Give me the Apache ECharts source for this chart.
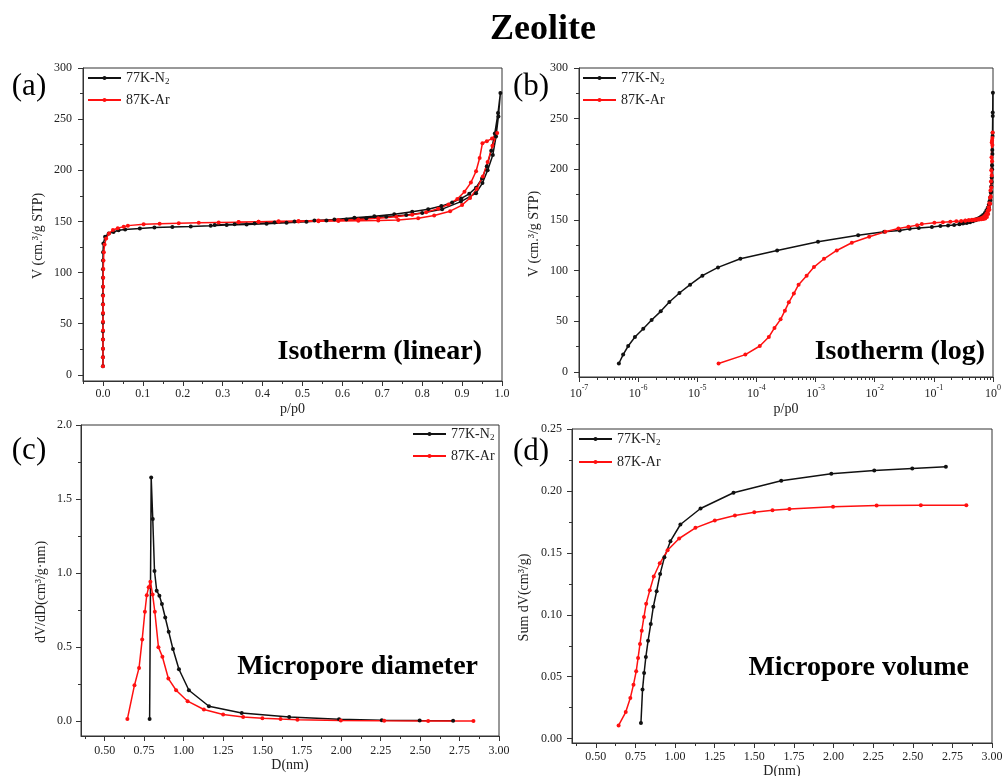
<!DOCTYPE html>
<html><head><meta charset="utf-8">
<script src="https://cdn.jsdelivr.net/npm/echarts@6/dist/echarts.min.js"></script>
<style>html,body{margin:0;padding:0;background:#fff}#c{width:1003px;height:776px}</style>
</head><body><div id="c"></div>
<script>
// ---------- DATA ----------
// Isotherm, 77K-N2 (adsorption then desorption)
const n2P = [4.72e-7, 5.58e-7, 6.79e-7, 8.83e-7, 1.22e-6, 1.69e-6, 2.41e-6, 3.37e-6, 4.99e-6, 7.57e-6,
  1.22e-5, 2.24e-5, 5.35e-5, 2.24e-4, 1.10e-3, 5.25e-3, 1.45e-2, 2.65e-2, 3.91e-2, 5.56e-2,
  9.25e-2, 0.129, 0.174, 0.22, 0.27, 0.31, 0.36, 0.41, 0.46, 0.51, 0.56, 0.61, 0.66, 0.71, 0.76,
  0.80, 0.85, 0.897, 0.935, 0.951, 0.964, 0.977, 0.985, 0.991, 0.996,
  0.990, 0.982, 0.973, 0.962, 0.950, 0.935, 0.918, 0.898, 0.875, 0.848, 0.815, 0.775, 0.73, 0.68,
  0.63, 0.58, 0.53, 0.48, 0.43, 0.38, 0.33, 0.28];
const n2V = [8.3, 17.1, 25.6, 34.5, 42.7, 51.3, 59.8, 69.0, 77.9, 86.1,
  95.0, 103.2, 111.7, 119.9, 128.5, 135.0, 138.3, 139.6, 141.3, 142.0,
  143.0, 144.0, 144.5, 145.0, 145.8, 146.5, 147.0, 147.8, 148.8, 149.8, 150.8, 152.0, 153.2, 154.5, 156.2,
  158.3, 162.0, 169.4, 177.6, 187.5, 200, 215, 233, 252.7, 275.6,
  256, 236, 219, 204, 192, 183, 177, 172.5, 168.5, 165, 162, 159.5, 157, 155,
  153.5, 152, 151, 150, 149, 148, 147.2, 146.5];
// Isotherm, 87K-Ar (adsorption then desorption)
const arP = [2.29e-5, 6.50e-5, 1.14e-4, 1.62e-4, 2.02e-4, 2.56e-4, 3.03e-4, 3.53e-4, 4.29e-4, 5.16e-4,
  7.06e-4, 9.39e-4, 1.39e-3, 2.28e-3, 4.10e-3, 8.07e-3, 1.51e-2, 2.51e-2, 3.71e-2, 5.2e-2,
  6.25e-2, 0.102, 0.142, 0.19, 0.24, 0.29, 0.34, 0.39, 0.44, 0.49, 0.54, 0.59, 0.64, 0.69, 0.74,
  0.79, 0.83, 0.87, 0.90, 0.92, 0.937, 0.952, 0.964, 0.976, 0.988,
  0.975, 0.962, 0.951, 0.944, 0.935, 0.922, 0.906, 0.888, 0.866, 0.84, 0.81, 0.775, 0.735, 0.69,
  0.64, 0.59, 0.54, 0.49, 0.44, 0.39, 0.34];
const arV = [8.3, 17.1, 25.6, 34.5, 43.4, 51.9, 60.5, 68.7, 77.3, 86.1,
  95.0, 103.5, 111.7, 119.9, 127.5, 133.4, 138.3, 141.6, 143.3, 144.9,
  145.9, 147.2, 147.8, 148.3, 148.7, 149.0, 149.3, 149.6, 149.8, 150.0, 150.2, 150.4, 150.7, 151.0, 151.5,
  153.0, 155.8, 160.0, 166.0, 173.0, 182.0, 194.0, 208.0, 224.0, 236.4,
  231, 228.5, 226.5, 212, 199, 188, 179, 172, 166.5, 162.5, 159, 156.5, 154.5, 153,
  152, 151.3, 150.8, 150.4, 150.1, 149.8, 149.5];
// Pore size distribution
const dN2 = [0.785, 0.795, 0.805, 0.816, 0.830, 0.847, 0.863, 0.884, 0.906, 0.933, 0.971, 1.034,
  1.161, 1.369, 1.670, 1.986, 2.257, 2.497, 2.709];
const dvdN2 = [0.014, 1.646, 1.365, 1.014, 0.881, 0.847, 0.791, 0.700, 0.604, 0.487, 0.351, 0.209,
  0.101, 0.056, 0.029, 0.0135, 0.007, 0.0045, 0.003];
const sumN2 = [0.0127, 0.0396, 0.053, 0.066, 0.079, 0.0926, 0.1064, 0.119, 0.133, 0.1464, 0.1594, 0.1729,
  0.1858, 0.1985, 0.2082, 0.2138, 0.2165, 0.2181, 0.2195];
const dAr = [0.644, 0.689, 0.718, 0.738, 0.755, 0.767, 0.779, 0.790, 0.804, 0.818, 0.841, 0.866, 0.904,
  0.953, 1.026, 1.129, 1.251, 1.378, 1.500, 1.615, 1.722, 1.997, 2.272, 2.551, 2.838];
const dvdAr = [0.014, 0.243, 0.36, 0.552, 0.739, 0.851, 0.905, 0.941, 0.856, 0.739, 0.50, 0.435, 0.288,
  0.209, 0.135, 0.079, 0.045, 0.029, 0.020, 0.014, 0.009, 0.005, 0.003, 0.002, 0.001];
const sumAr = [0.0107, 0.0215, 0.0329, 0.0436, 0.0544, 0.0652, 0.0765, 0.0872, 0.0983, 0.109, 0.1198,
  0.1309, 0.1416, 0.1521, 0.1616, 0.1702, 0.1761, 0.1801, 0.1828, 0.1844, 0.1855, 0.1872, 0.1882,
  0.1884, 0.1884];
// Tick values
const ticksPP = [0, 0.1, 0.2, 0.3, 0.4, 0.5, 0.6, 0.7, 0.8, 0.9, 1.0];
const ticksPPminor = [-0.05, 0.05, 0.15, 0.25, 0.35, 0.45, 0.55, 0.65, 0.75, 0.85, 0.95];
const ticksV = [0, 50, 100, 150, 200, 250, 300];
const ticksVminor = [25, 75, 125, 175, 225, 275];
const ticksD = [0.5, 0.75, 1.0, 1.25, 1.5, 1.75, 2.0, 2.25, 2.5, 2.75, 3.0];
const ticksDminor = [0.375, 0.625, 0.875, 1.125, 1.375, 1.625, 1.875, 2.125, 2.375, 2.625, 2.875];
const ticksDVD = [0, 0.5, 1.0, 1.5, 2.0];
const ticksDVDminor = [0.25, 0.75, 1.25, 1.75];
const ticksSum = [0, 0.05, 0.10, 0.15, 0.20, 0.25];
const ticksSumMinor = [0.025, 0.075, 0.125, 0.175, 0.225];
const seriesNames = ['77K-N2', '87K-Ar'];

// ---------- CHART ----------
const FONT = '"Liberation Serif", "Times New Roman", serif';
const AX = '#333';
const TX = '#222';
const BLACK = '#111111';
const RED = '#ff1010';
const pairs = (xs, ys) => xs.map((x, i) => [x, ys[i]]);

function mainAxis(o) {
  return Object.assign({
    type: 'value', splitLine: { show: false },
    axisLine: { show: true, onZero: false, lineStyle: { color: AX, width: 1 } },
    axisTick: { show: true, inside: false, length: 5, customValues: o.ticks, lineStyle: { color: AX, width: 1 } },
    axisLabel: { show: true, customValues: o.ticks, formatter: o.fmt, margin: o.margin, color: TX, fontFamily: FONT, fontSize: 12 },
    nameLocation: 'middle', nameTextStyle: { fontFamily: FONT, fontSize: 14, color: TX, padding: o.namePad || 0 }
  }, o.extra);
}
function minorAxis(o) {
  return Object.assign({
    type: 'value', splitLine: { show: false },
    axisLine: { show: false, onZero: false },
    axisTick: { show: true, inside: false, length: 3, customValues: o.ticks, lineStyle: { color: AX, width: 1 } },
    axisLabel: { show: false }
  }, o.extra);
}

const logMinor = [];
for (let n = -7; n < 0; n++) for (let k = 2; k <= 9; k++) logMinor.push(n + Math.log10(k));

const grids = [
  { left: 83, top: 68, width: 419, height: 313 },
  { left: 579, top: 68, width: 414, height: 309 },
  { left: 81, top: 425, width: 418, height: 311 },
  { left: 572, top: 429, width: 420, height: 314 }
].map(g => Object.assign({ show: true, borderColor: AX, borderWidth: 1, containLabel: false, outerBoundsMode: 'none' }, g));

const xAxis = [
  mainAxis({ ticks: ticksPP, fmt: v => v.toFixed(1), margin: 7, extra: { gridIndex: 0, min: -0.05, max: 1.0, position: 'bottom', name: 'p/p0', nameGap: 21 } }),
  minorAxis({ ticks: ticksPPminor, extra: { gridIndex: 0, min: -0.05, max: 1.0, position: 'bottom' } }),
  {
    type: 'log', logBase: 10, gridIndex: 1, min: 1e-7, max: 1, position: 'bottom', splitLine: { show: false },
    axisLine: { show: true, onZero: false, lineStyle: { color: AX, width: 1 } },
    axisTick: { show: true, inside: false, length: 5, lineStyle: { color: AX, width: 1 } },
    axisLabel: {
      margin: 7, color: TX, fontFamily: FONT,
      formatter: v => '{b|10}{e|' + Math.round(Math.log10(v)) + '}',
      rich: { b: { fontSize: 12, fontFamily: FONT, color: TX, lineHeight: 16, verticalAlign: 'bottom' },
              e: { fontSize: 8, fontFamily: FONT, color: TX, lineHeight: 16, verticalAlign: 'top', padding: [0, 0, 6, 0] } }
    },
    name: 'p/p0', nameLocation: 'middle', nameGap: 25, nameTextStyle: { fontFamily: FONT, fontSize: 14, color: TX }
  },
  minorAxis({ ticks: logMinor, extra: { gridIndex: 1, min: -7, max: 0, position: 'bottom' } }),
  mainAxis({ ticks: ticksD, fmt: v => v.toFixed(2), margin: 9, extra: { gridIndex: 2, min: 0.35, max: 3.0, position: 'bottom', name: 'D(nm)', nameGap: 21 } }),
  minorAxis({ ticks: ticksDminor, extra: { gridIndex: 2, min: 0.35, max: 3.0, position: 'bottom' } }),
  mainAxis({ ticks: ticksD, fmt: v => v.toFixed(2), margin: 8, extra: { gridIndex: 3, min: 0.35, max: 3.0, position: 'bottom', name: 'D(nm)', nameGap: 20 } }),
  minorAxis({ ticks: ticksDminor, extra: { gridIndex: 3, min: 0.35, max: 3.0, position: 'bottom' } })
];
const yAxis = [
  mainAxis({ ticks: ticksV, fmt: v => String(v), margin: 11, namePad: [0, 23, 0, 0], extra: { gridIndex: 0, min: -6, max: 300, position: 'left', name: 'V (cm.³/g STP)', nameGap: 38 } }),
  minorAxis({ ticks: ticksVminor, extra: { gridIndex: 0, min: -6, max: 300, position: 'left' } }),
  mainAxis({ ticks: ticksV, fmt: v => String(v), margin: 11, namePad: [0, 23, 0, 0], extra: { gridIndex: 1, min: -5, max: 300, position: 'left', name: 'V (cm.³/g STP)', nameGap: 38 } }),
  minorAxis({ ticks: ticksVminor, extra: { gridIndex: 1, min: -5, max: 300, position: 'left' } }),
  mainAxis({ ticks: ticksDVD, fmt: v => v.toFixed(1), margin: 9, namePad: [0, 23, 0, 0], extra: { gridIndex: 2, min: -0.1, max: 2.0, position: 'left', name: 'dV/dD(cm³/g·nm)', nameGap: 33 } }),
  minorAxis({ ticks: ticksDVDminor, extra: { gridIndex: 2, min: -0.1, max: 2.0, position: 'left' } }),
  mainAxis({ ticks: ticksSum, fmt: v => v.toFixed(2), margin: 10, namePad: [0, 23, 0, 0], extra: { gridIndex: 3, min: -0.0035, max: 0.25, position: 'left', name: 'Sum dV(cm³/g)', nameGap: 41 } }),
  minorAxis({ ticks: ticksSumMinor, extra: { gridIndex: 3, min: -0.0035, max: 0.25, position: 'left' } })
];

function line(name, color, data, xi, yi) {
  return {
    type: 'line', name, data, xAxisIndex: xi, yAxisIndex: yi,
    symbol: 'circle', symbolSize: 4, showSymbol: true, showAllSymbol: true,
    lineStyle: { color, width: 1.5 }, itemStyle: { color },
    animation: false, silent: true
  };
}
const series = [
  line(seriesNames[0], BLACK, pairs(n2P, n2V), 0, 0),
  line(seriesNames[1], RED, pairs(arP, arV), 0, 0),
  line(seriesNames[0], BLACK, pairs(n2P, n2V), 2, 2),
  line(seriesNames[1], RED, pairs(arP, arV), 2, 2),
  line(seriesNames[0], BLACK, pairs(dN2, dvdN2), 4, 4),
  line(seriesNames[1], RED, pairs(dAr, dvdAr), 4, 4),
  line(seriesNames[0], BLACK, pairs(dN2, sumN2), 6, 6),
  line(seriesNames[1], RED, pairs(dAr, sumAr), 6, 6)
];

function legend(left, top, gap) {
  return {
    orient: 'vertical', left, top, padding: 0, itemWidth: 33, itemHeight: 5, itemGap: gap,
    selectedMode: false, data: seriesNames,
    formatter: n => n === '77K-N2' ? '{t|77K-N}{s|2}' : '{t|87K-Ar}',
    textStyle: {
      fontFamily: FONT, fontSize: 14, color: TX,
      rich: { t: { fontFamily: FONT, fontSize: 14, color: TX, lineHeight: 16 },
              s: { fontFamily: FONT, fontSize: 9, color: TX, lineHeight: 16, verticalAlign: 'bottom', padding: [6, 0, 0, 0] } }
    }
  };
}

function txt(text, x, y, size, align, bold) {
  return { type: 'text', x, y, silent: true,
    style: { text, font: (bold ? 'bold ' : '') + size + 'px ' + FONT, fill: '#000', align, verticalAlign: 'middle' } };
}

const option = {
  backgroundColor: '#fff',
  animation: false,
  title: { show: false },
  grid: grids, xAxis, yAxis, series,
  legend: [legend(87, 71, 7), legend(582, 71, 7), legend(412, 427, 7), legend(578, 432, 8)],
  graphic: [
    txt('Zeolite', 543, 30, 36, 'center', true),
    txt('(a)', 29, 87, 31, 'center', false),
    txt('(b)', 531, 87, 31, 'center', false),
    txt('(c)', 29, 451, 31, 'center', false),
    txt('(d)', 531, 452, 31, 'center', false),
    txt('Isotherm (linear)', 482, 352, 28, 'right', true),
    txt('Isotherm (log)', 985, 352, 28, 'right', true),
    txt('Micropore diameter', 478, 667, 28, 'right', true),
    txt('Micropore volume', 969, 668, 28, 'right', true)
  ]
};
const chart = echarts.init(document.getElementById('c'), null, { renderer: 'canvas' });
chart.setOption(option);
</script></body></html>
